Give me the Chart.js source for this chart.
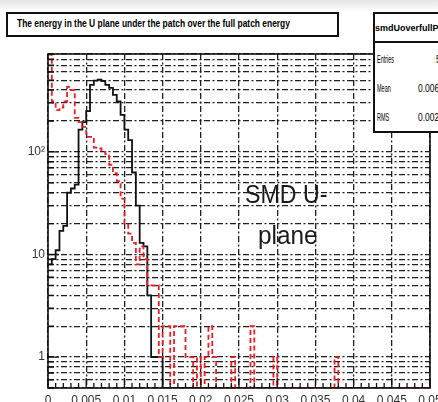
<!DOCTYPE html>
<html><head><meta charset="utf-8">
<script src="https://cdn.jsdelivr.net/npm/chart.js@4.4.1/dist/chart.umd.min.js"></script>
<style>
html,body{margin:0;padding:0;width:438px;height:402px;overflow:hidden;background:#fff;}
#wrap{position:relative;width:438px;height:402px;overflow:hidden;background:linear-gradient(to bottom,#e4e4e4 0px,#f4f4f4 7px,#ffffff 12px);}
canvas{position:absolute;left:0;top:0;}
.box{position:absolute;border:2px solid #111;background:#fff;box-sizing:border-box;}
.t{position:absolute;white-space:nowrap;transform-origin:0 0;font-family:"Liberation Sans",Arial,sans-serif;color:#000;-webkit-font-smoothing:antialiased;}
</style></head>
<body>
<div id="wrap">
<canvas id="c" width="438" height="402"></canvas>
<div class="box" style="left:6px;top:12px;width:333px;height:25px;"></div>
<div class="t" id="ttl" style="left:17px;top:18px;font-size:10px;font-weight:bold;line-height:11px;">The energy in the U plane under the patch over the full patch energy</div>
<div class="box" style="left:373px;top:12px;width:90px;height:121px;"></div>
<div style="position:absolute;left:373px;top:41px;width:70px;height:0;border-top:2px solid #111;"></div>
<div class="t" id="hdr" style="left:375px;top:23px;font-size:9px;font-weight:bold;line-height:10px;">smdUoverfullPatch</div>
<div class="t" id="s1" style="left:377px;top:54px;font-size:10px;line-height:11px;">Entries</div>
<div class="t" id="s2" style="left:377px;top:83px;font-size:10px;line-height:11px;">Mean</div>
<div class="t" id="s3" style="left:377px;top:112px;font-size:10px;line-height:11px;">RMS</div>
<div class="t" id="v1" style="left:436px;top:54px;font-size:10px;line-height:11px;">5142</div>
<div class="t" id="v2" style="left:418px;top:83px;font-size:10px;line-height:11px;">0.006571</div>
<div class="t" id="v3" style="left:418px;top:112px;font-size:10px;line-height:11px;">0.002513</div>
<div class="t" id="a1" style="left:245px;top:181px;font-size:26px;line-height:26px;color:#1a1a1a;">SMD U-</div>
<div class="t" id="a2" style="left:258px;top:222px;font-size:26px;line-height:26px;color:#1a1a1a;">plane</div>
</div>
<script>
// ---- data ----
const nBins = 100;
const xLow = 0, xHigh = 0.05;
const blackCounts = [
  8, 9, 11, 17, 19, 40, 44, 48, 165, 195,
  250, 450, 495, 505, 490, 450, 420, 360, 310, 230,
  165, 130, 63, 30, 13, 12, 4, 1, 1, 1,
  0, 0, 0, 0, 0, 0, 0, 0, 0, 0,
  0, 0, 0, 0, 0, 0, 0, 0, 0, 0,
  0, 0, 0, 0, 0, 0, 0, 0, 0, 0,
  0, 0, 0, 0, 0, 0, 0, 0, 0, 0,
  0, 0, 0, 0, 0, 0, 0, 0, 0, 0,
  0, 0, 0, 0, 0, 0, 0, 0, 0, 0,
  0, 0, 0, 0, 0, 0, 0, 0, 0, 0
];
const redCounts = [
  890, 310, 255, 270, 310, 430, 400, 215, 195, 175,
  140, 140, 110, 108, 100, 95, 75, 62, 52, 35,
  20, 16, 13, 8, 12, 9, 5, 5, 5, 1,
  2, 2, 0, 2, 2, 2, 1, 1, 0, 1,
  0, 1, 2, 1, 0, 0, 0, 0, 1, 0,
  0, 0, 0, 2, 0, 0, 0, 0, 0, 1,
  0, 0, 0, 0, 0, 0, 0, 0, 0, 0,
  0, 0, 0, 0, 0, 1, 0, 0, 0, 0,
  0, 0, 0, 0, 0, 0, 0, 0, 0, 0,
  0, 0, 0, 0, 0, 0, 0, 0, 0, 0
];
const xTickValues = [0, 0.005, 0.01, 0.015, 0.02, 0.025, 0.03, 0.035, 0.04, 0.045, 0.05];
const xTickLabels = ['0', '0.005', '0.01', '0.015', '0.02', '0.025', '0.03', '0.035', '0.04', '0.045', '0.05'];
const yTickValues = [0.5, 0.6, 0.7, 0.8, 0.9,
  1, 2, 3, 4, 5, 6, 7, 8, 9,
  10, 20, 30, 40, 50, 60, 70, 80, 90,
  100, 200, 300, 400, 500, 600, 700, 800, 900];
const yLabelValues = [1, 10, 100];
const yLabelTexts = ['1', '10', '10\u00B2'];
const yMin = 0.5, yMax = 900;

// ---- build step points (left bin edges + final right edge) ----
// empty bins sit on the bottom of the log frame, as in the original histogram drawing
function toSteps(counts) {
  const w = (xHigh - xLow) / nBins;
  const pts = counts.map((c, i) => ({x: xLow + i * w, y: c > 0 ? c : yMin}));
  pts.push({x: xHigh, y: pts[pts.length - 1].y});
  return pts;
}

function squeeze(id, f) { document.getElementById(id).style.transform = 'scaleX(' + f + ')'; }
(function(){
  const t = document.getElementById('ttl');
  squeeze('ttl', 273 / t.offsetWidth);
  squeeze('hdr', 1.0);
  ['s1','s2','s3'].forEach(id => squeeze(id, 0.55));
  ['v1','v2','v3'].forEach(id => squeeze(id, 0.85));
  const a1 = document.getElementById('a1'); squeeze('a1', 82 / a1.offsetWidth);
  const a2 = document.getElementById('a2'); squeeze('a2', 60 / a2.offsetWidth);
})();

const axisDecor = {
  id: 'axisDecor',
  afterDraw(chart) {
    const {ctx, chartArea: a, scales: {x, y}} = chart;
    ctx.save();
    ctx.setLineDash([]);
    ctx.strokeStyle = '#111';
    ctx.lineWidth = 1.3;
    ctx.beginPath();
    for (let k = 0; k < xTickValues.length; k++) {
      const px = x.getPixelForValue(xTickValues[k]);
      ctx.moveTo(px, a.bottom); ctx.lineTo(px, a.bottom - 10);
      if (k < xTickValues.length - 1) {
        const step = (xTickValues[k + 1] - xTickValues[k]) / 5;
        for (let m = 1; m < 5; m++) {
          const pm = x.getPixelForValue(xTickValues[k] + m * step);
          ctx.moveTo(pm, a.bottom); ctx.lineTo(pm, a.bottom - 5);
        }
      }
    }
    yTickValues.forEach(v => {
      const py = y.getPixelForValue(v);
      const len = yLabelValues.includes(v) ? 11 : 6;
      ctx.moveTo(a.left, py); ctx.lineTo(a.left + len, py);
    });
    ctx.stroke();
    ctx.lineWidth = 1.6;
    ctx.strokeRect(a.left, a.top, a.right - a.left, a.bottom - a.top);
    ctx.restore();
  }
};

new Chart(document.getElementById('c'), {
  type: 'line',
  data: {
    datasets: [
      {
        label: 'red',
        data: toSteps(redCounts),
        stepped: 'before',
        borderColor: 'rgb(238,28,36)',
        borderWidth: 1.8,
        borderDash: [5, 3],
        pointRadius: 0,
        fill: false
      },
      {
        label: 'black',
        data: toSteps(blackCounts),
        stepped: 'before',
        borderColor: '#111',
        borderWidth: 1.8,
        pointRadius: 0,
        fill: false
      }
    ]
  },
  options: {
    responsive: false,
    animation: false,
    events: [],
    layout: {padding: {top: 54, right: 8, left: 0, bottom: 0}},
    plugins: {legend: {display: false}, tooltip: {enabled: false}, title: {display: false}},
    scales: {
      x: {
        type: 'linear', min: xLow, max: xHigh,
        afterBuildTicks: s => { s.ticks = xTickValues.map(v => ({value: v})); },
        afterFit: s => { s.height = 14; s.paddingLeft = 0; s.paddingRight = 0; },
        grid: {color: '#1e1e1e', lineWidth: 1.3, drawTicks: false},
        border: {display: false, dash: [6, 2.5, 2, 2.5]},
        ticks: {
          padding: 5, maxRotation: 0, autoSkip: false, color: '#333',
          font: {family: '"Liberation Sans", Arial, sans-serif', size: 12},
          callback: (v, i) => xTickLabels[i]
        }
      },
      y: {
        type: 'logarithmic', min: yMin, max: yMax,
        afterBuildTicks: s => { s.ticks = yTickValues.map(v => ({value: v})); },
        afterFit: s => { s.width = 48; s.paddingTop = 0; s.paddingBottom = 0; },
        grid: {color: '#1e1e1e', lineWidth: 1.3, drawTicks: false},
        border: {display: false, dash: [6, 2.5, 2, 2.5]},
        ticks: {
          padding: 3, autoSkip: false, color: '#333',
          font: {family: '"Liberation Sans", Arial, sans-serif', size: 12},
          callback: (v) => { const k = yLabelValues.indexOf(v); return k >= 0 ? yLabelTexts[k] : ''; }
        }
      }
    }
  },
  plugins: [axisDecor]
});
</script>
</body></html>
